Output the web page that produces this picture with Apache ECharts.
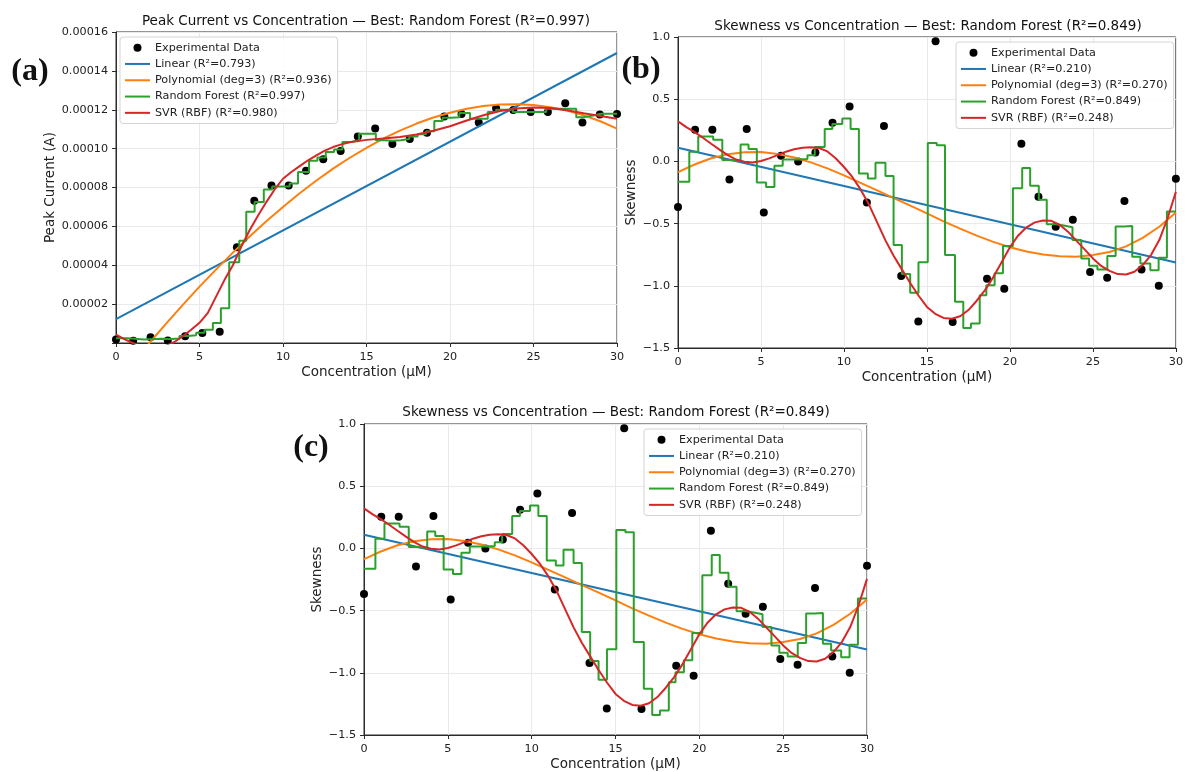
<!DOCTYPE html>
<html>
<head>
<meta charset="utf-8">
<title>Peak current and skewness vs concentration</title>
<script src="https://cdn.jsdelivr.net/npm/echarts@6.0.0/dist/echarts.min.js"></script>
<style>
  html, body { margin: 0; padding: 0; background: #fff; }
  #chart { width: 1186px; height: 772px; }
</style>
</head>
<body>
<div id="chart"></div>
<script>
var FONT = "DejaVu Sans";

// measured concentrations (shared by all panels)
var concentration = [0, 1.03, 2.07, 3.10, 4.14, 5.17, 6.21, 7.24, 8.28, 9.31, 10.34, 11.38, 12.41, 13.45, 14.48,
  15.52, 16.55, 17.59, 18.62, 19.66, 20.69, 21.72, 22.76, 23.79, 24.83, 25.86, 26.90, 27.93, 28.97, 30.00];

// panel (a): peak current (A)
var peakCurrent = [1.8e-6, 1.2e-6, 3.0e-6, 1.3e-6, 3.5e-6, 5.2e-6, 5.8e-6, 49.3e-6, 73.2e-6, 81.0e-6,
  81.0e-6, 88.6e-6, 94.5e-6, 98.8e-6, 106.2e-6, 110.3e-6, 102.4e-6, 105.0e-6, 108.2e-6, 116.5e-6,
  117.8e-6, 113.4e-6, 120.8e-6, 119.9e-6, 118.8e-6, 118.8e-6, 123.3e-6, 113.5e-6, 117.5e-6, 117.8e-6];

var peakLinearX = [0, 30];
var peakLinearY = [12.3e-6, 149.2e-6];

var intX = [0, 1, 2, 3, 4, 5, 6, 7, 8, 9, 10, 11, 12, 13, 14, 15, 16, 17, 18, 19, 20,
  21, 22, 23, 24, 25, 26, 27, 28, 29, 30];
var peakPolyY = [-20.9e-6, -10.3e-6, 0, 10e-6, 19.6e-6, 29e-6, 37.9e-6, 46.5e-6, 54.8e-6, 62.6e-6,
  70e-6, 77e-6, 83.6e-6, 89.7e-6, 95.3e-6, 100.4e-6, 105.1e-6, 109.3e-6, 112.9e-6, 116e-6,
  118.5e-6, 120.5e-6, 121.9e-6, 122.7e-6, 122.8e-6, 122.4e-6, 121.3e-6, 119.6e-6, 117.2e-6, 114.1e-6, 110.3e-6];

var peakForestX = [0, 0.7, 1.7, 2.7, 3.3, 3.8, 4.3, 4.8, 5.3, 5.8, 6.28, 6.78, 7.38, 7.8, 8.3, 8.85, 9.35,
  10.4, 10.9, 11.56, 12.06, 12.56, 13.06, 13.56, 14.06, 14.56, 15.56, 16.06, 16.56, 17.06, 17.56, 18.06,
  18.56, 19.06, 19.56, 20.06, 20.56, 21.2, 21.76, 22.26, 22.76, 23.76, 25.76, 27.56, 28.06, 28.56, 29.06, 30];
var peakForestY = [2.5e-6, 1.8e-6, 2.2e-6, 2.0e-6, 2.3e-6, 3.6e-6, 4.0e-6, 5.3e-6, 6.8e-6, 10.3e-6,
  17.9e-6, 41.5e-6, 52.6e-6, 67.5e-6, 72.5e-6, 79e-6, 80.5e-6, 82e-6, 88e-6, 93.7e-6,
  95.4e-6, 98.3e-6, 99.5e-6, 103.4e-6, 104.3e-6, 107.7e-6, 104.3e-6, 104.0e-6, 104.3e-6, 105e-6,
  106.3e-6, 107.4e-6, 109e-6, 114.2e-6, 115.9e-6, 116.2e-6, 118.3e-6, 115.4e-6, 115.4e-6, 118.8e-6,
  120e-6, 118.8e-6, 120.5e-6, 116.2e-6, 117e-6, 117.9e-6, 118e-6, 118e-6];

var peakSvrX = [0, 0.5, 1, 1.5, 2, 2.5, 3, 3.5, 4, 4.5, 5, 5.5, 6, 6.5, 7, 7.5, 8, 8.5, 9, 9.5, 10,
  10.5, 11, 11.5, 12, 12.5, 13, 13.5, 14, 15, 16, 17, 18, 19, 20, 21, 22, 23, 24, 25, 26, 27, 28, 29, 30];
var peakSvrY = [4.3e-6, 2.0e-6, 0, -1.5e-6, -2.5e-6, -2.6e-6, -1.5e-6, 0.5e-6, 3.5e-6, 6.8e-6,
  10.4e-6, 15.5e-6, 24e-6, 32.5e-6, 40e-6, 49.5e-6, 58e-6, 65.5e-6, 72.5e-6, 79e-6,
  84.5e-6, 88e-6, 91e-6, 94e-6, 96.5e-6, 99e-6, 100.8e-6, 102.2e-6, 103.3e-6,
  104.5e-6, 105.2e-6, 106e-6, 107.3e-6, 109.2e-6, 111.5e-6, 114.5e-6, 117.2e-6, 119.4e-6, 120.7e-6,
  121.1e-6, 120.9e-6, 119.7e-6, 118.2e-6, 116.8e-6, 115.4e-6];

// panels (b) and (c): skewness
var skewness = [-0.367, 0.255, 0.255, -0.145, 0.26, -0.41, 0.046, 0.0, 0.072, 0.311,
  0.442, -0.33, 0.284, -0.922, -1.287, 0.965, -1.292, -1.53, -0.944, -1.024,
  0.142, -0.284, -0.525, -0.469, -0.89, -0.936, -0.319, -0.869, -1.0, -0.139];

var skewLinearX = [0, 30];
var skewLinearY = [0.11, -0.812];

var skewPolyY = [-0.086, -0.025, 0.025, 0.058, 0.074, 0.075, 0.06, 0.032, -0.008, -0.056,
  -0.112, -0.172, -0.233, -0.295, -0.356, -0.418, -0.482, -0.54, -0.597, -0.647,
  -0.69, -0.724, -0.748, -0.762, -0.766, -0.752, -0.728, -0.683, -0.615, -0.525, -0.41];

var skewForestX = [0, 0.68, 1.22, 2.12, 2.67, 3.11, 3.77, 4.25, 4.75, 5.31, 5.81, 6.31, 7.3, 7.8, 8.24,
  8.84, 9.3, 9.9, 10.4, 10.9, 11.44, 11.9, 12.5, 12.99, 13.49, 13.99, 14.49, 15.05, 15.59, 16.09, 16.69,
  17.19, 17.65, 18.18, 18.58, 19.08, 19.58, 20.18, 20.74, 21.22, 21.74, 22.22, 22.74, 23.25, 23.77, 24.3,
  24.77, 25.27, 25.87, 26.37, 26.87, 27.37, 27.86, 28.46, 28.96, 29.46, 30];
var skewForestY = [-0.164, 0.078, 0.2, 0.175, 0.012, 0.005, 0.135, 0.1, -0.17, -0.205,
  -0.035, 0.015, 0.02, 0.05, 0.115, 0.26, 0.3, 0.345, 0.26, -0.097,
  -0.137, -0.011, -0.118, -0.673, -0.906, -1.056, -0.81, 0.148, 0.129, -0.753,
  -1.129, -1.339, -1.304, -1.075, -0.995, -0.9, -0.68, -0.215, -0.054, -0.196,
  -0.309, -0.505, -0.515, -0.53, -0.632, -0.78, -0.839, -0.868, -0.76, -0.524,
  -0.52, -0.766, -0.82, -0.874, -0.774, -0.403, -0.403];

var halfX = [0, 0.5, 1, 1.5, 2, 2.5, 3, 3.5, 4, 4.5, 5, 5.5, 6, 6.5, 7, 7.5, 8, 8.5, 9, 9.5, 10,
  10.5, 11, 11.5, 12, 12.5, 13, 13.5, 14, 14.5, 15, 15.5, 16, 16.5, 17, 17.5, 18, 18.5, 19, 19.5, 20,
  20.5, 21, 21.5, 22, 22.5, 23, 23.5, 24, 24.5, 25, 25.5, 26, 26.5, 27, 27.5, 28, 28.5, 29, 29.5, 30];
var skewSvrY = [0.322, 0.275, 0.235, 0.19, 0.142, 0.095, 0.05, 0.015, -0.003, -0.008,
  0.003, 0.024, 0.05, 0.078, 0.098, 0.11, 0.114, 0.108, 0.08, 0.025,
  -0.045, -0.125, -0.225, -0.345, -0.49, -0.635, -0.76, -0.87, -0.98, -1.08,
  -1.17, -1.225, -1.258, -1.265, -1.245, -1.195, -1.12, -1.035, -0.93, -0.81,
  -0.69, -0.595, -0.53, -0.49, -0.475, -0.478, -0.51, -0.565, -0.637, -0.707,
  -0.78, -0.84, -0.88, -0.906, -0.909, -0.887, -0.833, -0.753, -0.632, -0.457, -0.245];

var peakNames = ["Experimental Data", "Linear (R\u00b2=0.793)", "Polynomial (deg=3) (R\u00b2=0.936)",
  "Random Forest (R\u00b2=0.997)", "SVR (RBF) (R\u00b2=0.980)"];
var skewNames = ["Experimental Data", "Linear (R\u00b2=0.210)", "Polynomial (deg=3) (R\u00b2=0.270)",
  "Random Forest (R\u00b2=0.849)", "SVR (RBF) (R\u00b2=0.248)"];

var colors = ["#000000", "#1f77b4", "#ff7f0e", "#2ca02c", "#d62728"];

function pairs(xs, ys) {
  return xs.map(function (x, i) { return [x, ys[i]]; });
}

function panelSeries(idx, names, points, linX, linY, polyY, rfX, rfY, svrX, svrY) {
  function line(name, color, data, extra) {
    var s = {
      name: name, type: "line", xAxisIndex: idx, yAxisIndex: idx,
      data: data, symbol: "none", smooth: false, clip: true,
      lineStyle: { color: color, width: 2 }, itemStyle: { color: color }
    };
    for (var k in extra) s[k] = extra[k];
    return s;
  }
  return [
    {
      name: names[0], type: "scatter", xAxisIndex: idx, yAxisIndex: idx,
      data: pairs(concentration, points), symbolSize: 8, clip: true,
      itemStyle: { color: "#000", opacity: 1 }
    },
    line(names[1], colors[1], pairs(linX, linY), {}),
    line(names[2], colors[2], pairs(intX, polyY), {}),
    line(names[3], colors[3], pairs(rfX, rfY), { step: "end" }),
    line(names[4], colors[4], pairs(svrX, svrY), {})
  ];
}

var axisColor = "#2b2b2b";
var TICK = 11.2;
var NAME = 13.5;

function xAxisFor(idx) {
  return {
    type: "value", gridIndex: idx, min: 0, max: 30, interval: 5,
    name: "Concentration (\u00b5M)", nameLocation: "middle", nameGap: 22,
    nameTextStyle: { fontFamily: FONT, fontSize: NAME, color: "#222" },
    axisLine: { show: true, onZero: false, lineStyle: { color: axisColor, width: 1 } },
    axisTick: { show: true, length: 4, lineStyle: { color: axisColor } },
    axisLabel: { fontFamily: FONT, fontSize: TICK, color: "#222", margin: 9 },
    splitLine: { show: true, lineStyle: { color: "#e9e9e9", width: 1 } }
  };
}

function yAxisFor(idx, opts) {
  var a = {
    type: "value", gridIndex: idx,
    nameLocation: "middle",
    nameTextStyle: { fontFamily: FONT, fontSize: NAME, color: "#222" },
    axisLine: { show: true, onZero: false, lineStyle: { color: axisColor, width: 1 } },
    axisTick: { show: true, length: 4, lineStyle: { color: axisColor } },
    splitLine: { show: true, lineStyle: { color: "#e9e9e9", width: 1 } }
  };
  for (var k in opts) a[k] = opts[k];
  return a;
}

function skewLabel(v) {
  return (v < 0 ? "\u2212" : "") + Math.abs(v).toFixed(1);
}

// legend rows: dot for the data, plain line (no marker) for the models
function legendFor(left, top, names) {
  var items = names.map(function (n, i) {
    return i === 0 ? { name: n } : { name: n, itemStyle: { opacity: 0 } };
  });
  return {
    orient: "vertical", left: left, top: top, data: items,
    itemWidth: 25, itemHeight: 8, itemGap: 3,
    padding: [4, 6, 4, 4],
    backgroundColor: "rgba(255,255,255,0.85)",
    borderColor: "#d4d4d4", borderWidth: 1, borderRadius: 3,
    textStyle: { fontFamily: FONT, fontSize: TICK, color: "#222", lineHeight: 13.3 },
    selectedMode: false
  };
}

function textAt(x, y, text, size, family, weight) {
  return {
    type: "text", x: x, y: y,
    style: {
      text: text, fontFamily: family, fontSize: size, fontWeight: weight,
      fill: "#111", align: "center", verticalAlign: "middle"
    }
  };
}

var chart = echarts.init(document.getElementById("chart"));

chart.setOption({
  animation: false,
  backgroundColor: "#fff",
  grid: [
    { left: 116, top: 32, width: 501, height: 311, show: true, borderColor: axisColor, borderWidth: 1 },
    { left: 678, top: 37, width: 502, height: 311, show: true, borderColor: axisColor, borderWidth: 1 },
    { left: 364, top: 424, width: 503, height: 312, show: true, borderColor: axisColor, borderWidth: 1 }
  ],
  xAxis: [xAxisFor(0), xAxisFor(1), xAxisFor(2)],
  yAxis: [
    yAxisFor(0, {
      min: 0, max: 0.00016, interval: 0.00002,
      name: "Peak Current (A)", nameGap: 59,
      axisLabel: {
        fontFamily: FONT, fontSize: TICK, color: "#222", margin: 8,
        formatter: function (v) { return v === 0 ? "" : v.toFixed(5); }
      }
    }),
    yAxisFor(1, {
      min: -1.5, max: 1.0, interval: 0.5, name: "Skewness", nameGap: 39,
      axisLabel: { fontFamily: FONT, fontSize: TICK, color: "#222", margin: 8, formatter: skewLabel }
    }),
    yAxisFor(2, {
      min: -1.5, max: 1.0, interval: 0.5, name: "Skewness", nameGap: 39,
      axisLabel: { fontFamily: FONT, fontSize: TICK, color: "#222", margin: 8, formatter: skewLabel }
    })
  ],
  legend: [
    legendFor(120, 37, peakNames),
    legendFor(956, 42, skewNames),
    legendFor(644, 429, skewNames)
  ],
  graphic: [
    textAt(366, 21, "Peak Current vs Concentration \u2014 Best: Random Forest (R\u00b2=0.997)", NAME, FONT, "normal"),
    textAt(928, 26, "Skewness vs Concentration \u2014 Best: Random Forest (R\u00b2=0.849)", NAME, FONT, "normal"),
    textAt(616, 412, "Skewness vs Concentration \u2014 Best: Random Forest (R\u00b2=0.849)", NAME, FONT, "normal"),
    textAt(30, 72, "(a)", 32, "Liberation Serif", "bold"),
    textAt(641, 70, "(b)", 32, "Liberation Serif", "bold"),
    textAt(311, 448, "(c)", 32, "Liberation Serif", "bold")
  ],
  series: [].concat(
    panelSeries(0, peakNames, peakCurrent, peakLinearX, peakLinearY, peakPolyY,
      peakForestX, peakForestY, peakSvrX, peakSvrY),
    panelSeries(1, skewNames, skewness, skewLinearX, skewLinearY, skewPolyY,
      skewForestX, skewForestY, halfX, skewSvrY),
    panelSeries(2, skewNames, skewness, skewLinearX, skewLinearY, skewPolyY,
      skewForestX, skewForestY, halfX, skewSvrY)
  )
});
</script>
</body>
</html>
